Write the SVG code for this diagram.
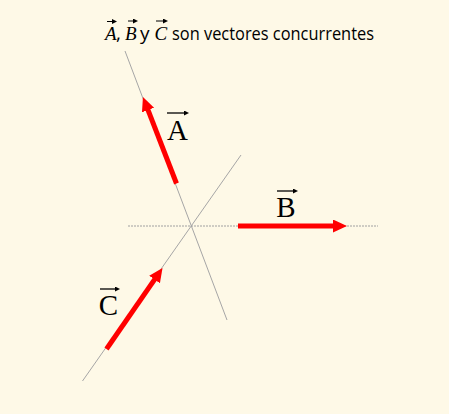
<svg xmlns="http://www.w3.org/2000/svg" width="449" height="414" viewBox="0 0 449 414">
<style>
.axis{stroke:#a6a6a6;stroke-width:1;fill:none}
.dot{stroke:#a0a0a0;stroke-width:1;stroke-dasharray:2 1;fill:none}
.vec{stroke:#ff0000;stroke-width:5;fill:none;marker-end:url(#head)}
.ov{stroke:#000;stroke-width:1.3;fill:none;marker-end:url(#small)}
.ovt{stroke:#000;stroke-width:1;fill:none;marker-end:url(#small)}
.lbl{font-family:"Liberation Serif","DejaVu Serif",serif;font-size:29px;fill:#000;text-anchor:middle}
.ti{font-family:"Liberation Serif","DejaVu Serif",serif;font-style:italic;font-size:19px;fill:#000}
.ts{font-family:"Open Sans","Liberation Sans",sans-serif;font-size:19px;fill:#000}
</style>
<defs>
<marker id="head" markerUnits="userSpaceOnUse" markerWidth="16" markerHeight="14" refX="2" refY="6.5" orient="auto">
<path d="M0,0 L14,6.5 L0,13 z" fill="#ff0000"/>
</marker>
<marker id="small" markerUnits="userSpaceOnUse" markerWidth="6" markerHeight="6" refX="1" refY="2.5" orient="auto">
<path d="M0,0 L5,2.5 L0,5 z" fill="#000"/>
</marker>
</defs>
<rect width="449" height="414" fill="#fef9e7"/>
<g id="title">
<text y="40"><tspan class="ti" x="105">A</tspan><tspan class="ts" x="116">,</tspan><tspan class="ti" x="125">B</tspan><tspan class="ts" x="140">y</tspan><tspan class="ti" x="154.5">C</tspan><tspan class="ts" x="172" textLength="202" lengthAdjust="spacingAndGlyphs">son vectores concurrentes</tspan></text>
<path class="ovt" d="M107,21.5 L113,21.5"/>
<path class="ovt" d="M128,21 L134,21"/>
<path class="ovt" d="M156,21 L164,21"/>
</g>
<g id="connectors">
<path class="axis" d="M125,51 L227,320"/>
<path class="dot" d="M128,226 L378,226"/>
<path class="axis" d="M82.5,381 L241,155"/>
</g>
<g id="vecA">
<path class="vec" d="M176.5,183.5 L147.3,108.2"/>
<text class="lbl" x="177.5" y="140">A</text>
<path class="ov" d="M167,113 L185,113"/>
</g>
<g id="vecB">
<path class="vec" d="M238,226 L335,226"/>
<text class="lbl" x="286" y="217">B</text>
<path class="ov" d="M277,191 L294,191"/>
</g>
<g id="vecC">
<path class="vec" d="M106.5,349 L155.7,277.9"/>
<text class="lbl" x="108.5" y="315">C</text>
<path class="ov" d="M100,289 L116,289"/>
</g>
</svg>
